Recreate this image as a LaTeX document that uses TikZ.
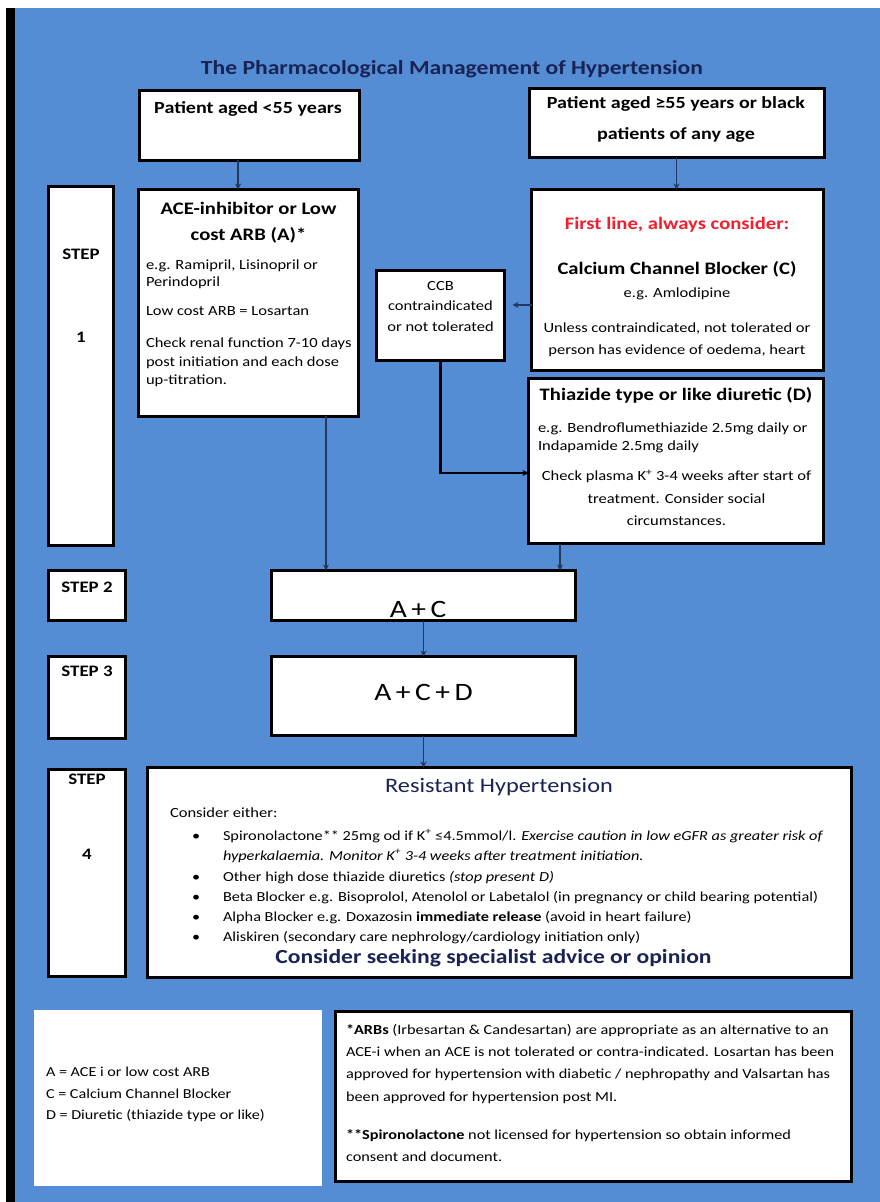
\documentclass[tikz,border=0pt]{standalone}
\usepackage{fontspec}
\setmainfont{Carlito}[FakeStretch=1.18]
\usetikzlibrary{arrows.meta,calc}
\definecolor{bgblue}{RGB}{84,141,212}
\definecolor{navy}{RGB}{25,35,85}
\definecolor{linec}{RGB}{35,55,95}
\definecolor{redtxt}{RGB}{245,30,45}
\newcommand\fs[2]{\fontsize{#1}{#2}\selectfont}
\newcommand\tightsp{\spaceskip=0.18em\relax}
\begin{document}
\begin{tikzpicture}[x=1pt,y=-1pt,
  box/.style={draw=black,line width=3pt,fill=white,inner sep=0pt,outer sep=0pt,anchor=north west},
  plainbox/.style={fill=white,inner sep=0pt,outer sep=0pt,anchor=north west},
  txt/.style={inner sep=0pt,outer sep=0pt,text=black},
  arr/.style={draw=linec,line width=1.5pt,-{Stealth[length=6pt,width=6pt]}},
  blackarr/.style={draw=black,line width=2.2pt,-{Stealth[length=6pt,width=6pt]}},
  hdr/.style={txt,font=\bfseries\fs{17.5}{20}},
  body/.style={txt,font=\fs{14}{17}},
  steplbl/.style={txt,anchor=north,font=\bfseries\fs{16}{18}},
  bul/.style={txt,anchor=base west,font=\fs{13.8}{16}}
]
\useasboundingbox (0,0) rectangle (880,1202);
\fill[white] (0,0) rectangle (880,1202);
\fill[bgblue] (15,8) rectangle (880,1202);
\fill[black] (6,8) rectangle (15,1202);

% title
\node[txt,anchor=north,font=\bfseries\fs{20}{24},text=navy] (title) at (452,60) {The Pharmacological Management of Hypertension};

% boxes
\node[box,minimum width=220pt,minimum height=70pt] (pL) at (139,90) {};
\node[box,minimum width=295pt,minimum height=69pt] (pR) at (529,88) {};
\node[box,minimum width=65pt,minimum height=359pt] (s1) at (48.5,186.5) {};
\node[box,minimum width=220pt,minimum height=226.5pt] (ace) at (138.5,189.5) {};
\node[box,minimum width=128pt,minimum height=90pt] (con) at (376.5,270.5) {};
\node[box,minimum width=292pt,minimum height=181pt] (ccb) at (531.5,189.5) {};
\node[box,minimum width=295pt,minimum height=165pt] (thz) at (528.5,378.5) {};
\node[box,minimum width=77pt,minimum height=50pt] (s2) at (48.5,570.5) {};
\node[box,minimum width=304pt,minimum height=50pt] (ac) at (271.5,570.5) {};
\node[box,minimum width=77pt,minimum height=82pt] (s3) at (48.5,656.5) {};
\node[box,minimum width=304pt,minimum height=79pt] (acd) at (271.5,656.5) {};
\node[box,minimum width=77pt,minimum height=206.5pt] (s4) at (48.5,769.5) {};
\node[box,minimum width=704.5pt,minimum height=209.5pt] (res) at (147,767.5) {};
\node[plainbox,minimum width=288pt,minimum height=176pt] (leg) at (34,1010) {};
\node[box,minimum width=516pt,minimum height=170pt] (foot) at (335.5,1011.5) {};

% helper coordinates for connector positions
\coordinate (xL) at (238,0);
\coordinate (xA) at (326,0);
\coordinate (xT) at (560,0);
\coordinate (yC) at (0,305);
\coordinate (yB) at (0,473);

% connectors
\draw[arr] (pL.south -| xL) -- (ace.north -| xL);
\draw[arr] (pR.south) -- (pR.south |- ccb.north);
\draw[arr,shorten >=8pt] (ccb.west |- yC) -- (con.east |- yC);
\draw[blackarr] (con.south) |- (thz.west |- yB);
\draw[arr] (ace.south -| xA) -- (ac.north -| xA);
\draw[arr] (thz.south -| xT) -- (ac.north -| xT);
\draw[arr] (ac.south) -- (acd.north);
\draw[arr] (acd.south) -- (acd.south |- res.north);

% patient boxes
\node[txt,anchor=north,font=\bfseries\fs{17}{20}] (pLt) at (248,102) {Patient aged <55 years};
\node[txt,anchor=north,align=center,font=\bfseries\fs{17}{31}] (pRt) at (676,97) {Patient aged ≥55 years or black\\patients of any age};

% step labels
\node[steplbl] (s1a) at (81,249) {STEP};
\node[steplbl] (s1b) at (81,332) {1};
\node[steplbl] (s2t) at (87,582) {STEP 2};
\node[steplbl] (s3t) at (87,666) {STEP 3};
\node[steplbl] (s4a) at (87,774) {STEP};
\node[steplbl] (s4b) at (87,849) {4};

% ACE box
\node[hdr,anchor=north,align=center,font=\bfseries\fs{17.5}{26}] (aceH) at (248.5,202) {ACE-inhibitor or Low\\cost ARB (A)*};
\node[body,anchor=north west,align=left] (aceE) at (146,260) {e.g. Ramipril, Lisinopril or\\Perindopril};
\node[body,anchor=north west] (aceL) at (146,307) {Low cost ARB = Losartan};
\node[body,anchor=north west,align=left,font=\fs{14}{18.5}] (aceC) at (146,338) {Check renal function 7-10 days\\post initiation and each dose\\up-titration.};

% CCB box
\node[hdr,anchor=north,text=redtxt] (ccbF) at (677,217) {First line, always consider:};
\node[hdr,anchor=north] (ccbN) at (677,262) {Calcium Channel Blocker (C)};
\node[body,anchor=north] (ccbE) at (677,288) {e.g. Amlodipine};
\node[body,anchor=north,align=center,font=\fs{14}{22}] (ccbU) at (677,323) {Unless contraindicated, not tolerated or\\person has evidence of oedema, heart};

% contraindicated box
\node[body,anchor=north,align=center,font=\fs{14}{20.5}] (conT) at (440.5,281) {CCB\\contraindicated\\or not tolerated};

% thiazide box
\node[hdr,anchor=north] (thzH) at (676,388) {Thiazide type or like diuretic (D)};
\node[body,anchor=north west,align=left,font=\fs{14}{18}] (thzE) at (538,423) {e.g. Bendroflumethiazide 2.5mg daily or\\Indapamide 2.5mg daily};
\node[body,anchor=north,align=center,font=\fs{14}{22.5}] (thzC) at (676.5,470) {Check plasma K\textsuperscript{+} 3-4 weeks after start of\\treatment. Consider social\\circumstances.};

% combination boxes
\node[txt,anchor=north,font=\fs{25}{28}] (acT) at (418,601) {\tightsp A + C};
\node[txt,anchor=north,font=\fs{25}{28}] (acdT) at (423.5,684) {\tightsp A + C + D};

% resistant hypertension
\node[txt,anchor=north,font=\fs{20.6}{22},text=navy] (resT) at (499,778) {Resistant Hypertension};
\node[txt,anchor=north west,font=\fs{14}{16}] (resC) at (170,808) {Consider either:};
\foreach \yy/\nn in {840/b1,881/b2,901/b3,921/b4,941/b5}
  \node[bul] (\nn) at (192,\yy) {•};
\node[bul] (r1) at (223,840) {Spironolactone** 25mg od if K\textsuperscript{+} ≤4.5mmol/l. \textit{Exercise caution in low eGFR as greater risk of}};
\node[bul] (r1b) at (223,860) {\textit{hyperkalaemia. Monitor K\textsuperscript{+} 3-4 weeks after treatment initiation.}};
\node[bul] (r2) at (223,881) {Other high dose thiazide diuretics \textit{(stop present D)}};
\node[bul] (r3) at (223,901) {Beta Blocker e.g. Bisoprolol, Atenolol or Labetalol (in pregnancy or child bearing potential)};
\node[bul] (r4) at (223,921) {Alpha Blocker e.g. Doxazosin \textbf{immediate release} (avoid in heart failure)};
\node[bul] (r5) at (223,941) {Aliskiren (secondary care nephrology/cardiology initiation only)};
\node[txt,anchor=north,font=\bfseries\fs{20}{22},text=navy] (resS) at (493.5,949) {Consider seeking specialist advice or opinion};

% legend
\node[txt,anchor=north west,align=left,font=\fs{13.7}{21.5}] (legT) at (46,1067) {A = ACE i or low cost ARB\\C = Calcium Channel Blocker\\D = Diuretic (thiazide type or like)};

% footnotes
\node[txt,anchor=north west,align=left,font=\fs{13.8}{22.3}] (ft1) at (346,1024) {\textbf{*ARBs} (Irbesartan \& Candesartan) are appropriate as an alternative to an\\ACE-i when an ACE is not tolerated or contra-indicated. Losartan has been\\approved for hypertension with diabetic / nephropathy and Valsartan has\\been approved for hypertension post MI.};
\node[txt,anchor=north west,align=left,font=\fs{13.8}{22}] (ft2) at (346,1130) {\textbf{**Spironolactone} not licensed for hypertension so obtain informed\\consent and document.};
\end{tikzpicture}
\end{document}
